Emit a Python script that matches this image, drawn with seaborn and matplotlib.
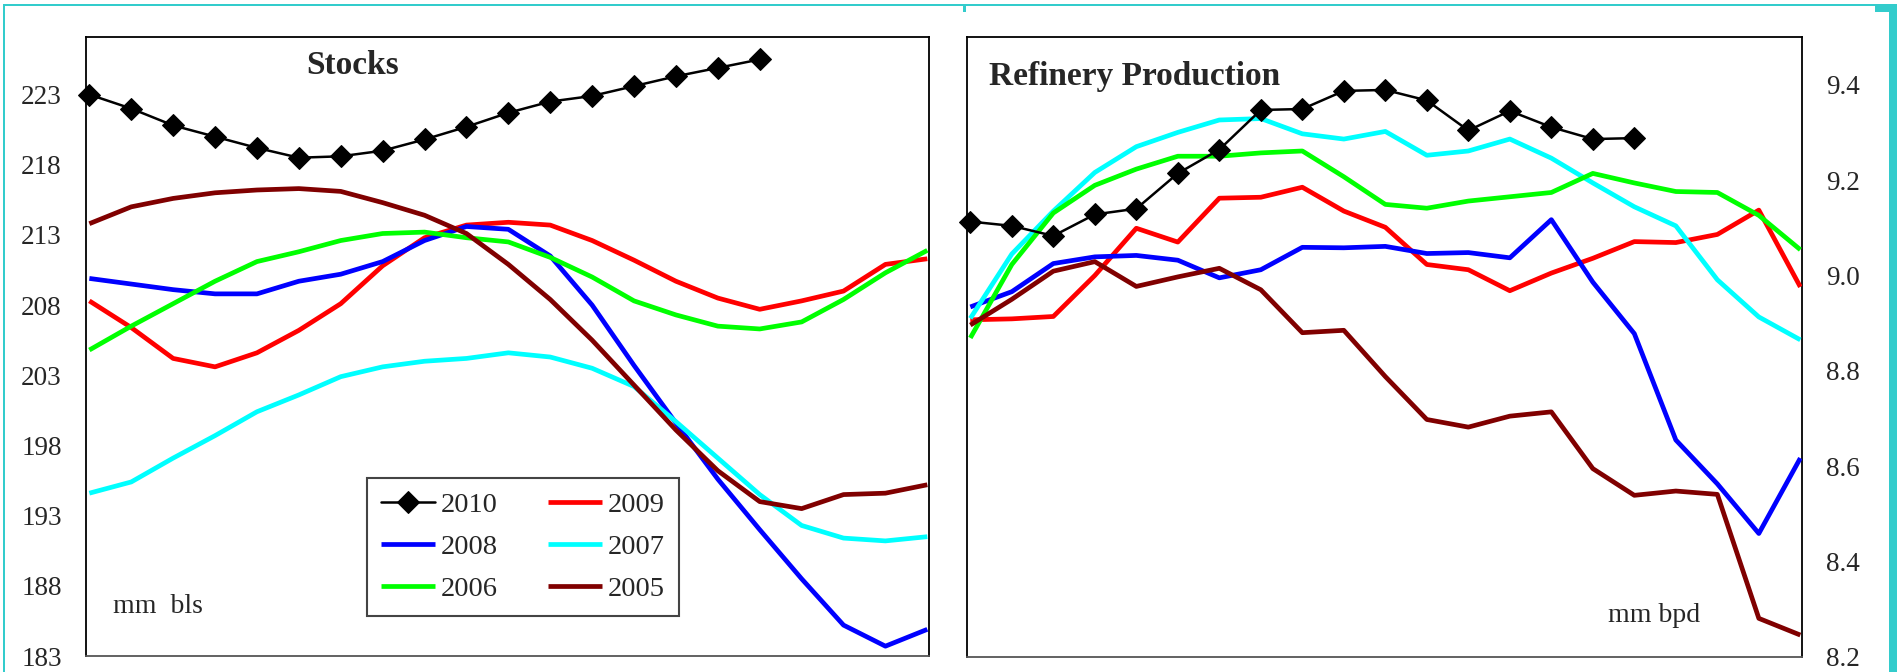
import numpy as np
import pandas as pd
import seaborn as sns
import matplotlib.pyplot as plt
from matplotlib.patches import Rectangle

years = ['2010', '2009', '2008', '2007', '2006', '2005']
colors = ['black', '#ff0000', '#0000ff', '#00ffff', '#00ff00', '#800000']

# Stocks, mm bls (21 points per year; 2010 only partial)
stocks_2010 = [223.0, 222.0, 220.8, 220.0, 219.2, 218.5, 218.6, 219.0, 219.8, 220.7,
               221.7, 222.5, 222.9, 223.6, 224.3, 224.9, 225.5]
stocks_2009 = [208.3, 206.4, 204.2, 203.6, 204.6, 206.2, 208.1, 210.8, 212.8, 213.7,
               213.9, 213.7, 212.6, 211.2, 209.7, 208.5, 207.7, 208.3, 209.0, 210.9, 211.3]
stocks_2008 = [209.9, 209.5, 209.1, 208.8, 208.8, 209.7, 210.2, 211.1, 212.6, 213.6,
               213.4, 211.5, 208.0, 203.7, 199.6, 195.6, 192.0, 188.5, 185.2, 183.7, 184.9]
stocks_2007 = [194.6, 195.4, 197.1, 198.7, 200.4, 201.6, 202.9, 203.6, 204.0, 204.2,
               204.6, 204.3, 203.5, 202.2, 199.7, 197.1, 194.5, 192.3, 191.4, 191.2, 191.5]
stocks_2006 = [204.8, 206.5, 208.1, 209.7, 211.1, 211.8, 212.6, 213.1, 213.2, 212.8,
               212.5, 211.4, 210.0, 208.3, 207.3, 206.5, 206.3, 206.8, 208.4, 210.3, 211.9]
stocks_2005 = [213.8, 215.0, 215.6, 216.0, 216.2, 216.3, 216.1, 215.3, 214.4, 213.1,
               210.9, 208.4, 205.5, 202.3, 199.1, 196.2, 194.0, 193.5, 194.5, 194.6, 195.2]

# Refinery production, mm bpd
refin_2010 = [9.113, 9.104, 9.083, 9.128, 9.140, 9.214, 9.264, 9.347, 9.349, 9.387,
              9.389, 9.367, 9.304, 9.345, 9.311, 9.286, 9.288]
refin_2009 = [8.907, 8.909, 8.914, 9.000, 9.099, 9.070, 9.162, 9.164, 9.185, 9.135,
              9.101, 9.023, 9.012, 8.968, 9.005, 9.036, 9.071, 9.069, 9.086, 9.137, 8.976]
refin_2008 = [8.934, 8.966, 9.025, 9.039, 9.042, 9.032, 8.995, 9.012, 9.059, 9.058,
              9.061, 9.046, 9.048, 9.037, 9.117, 8.986, 8.878, 8.655, 8.563, 8.459, 8.617]
refin_2007 = [8.910, 9.045, 9.135, 9.216, 9.270, 9.300, 9.326, 9.329, 9.297, 9.286,
              9.302, 9.252, 9.261, 9.286, 9.246, 9.194, 9.144, 9.104, 8.991, 8.913, 8.865]
refin_2006 = [8.869, 9.023, 9.131, 9.189, 9.223, 9.250, 9.250, 9.257, 9.261, 9.207,
              9.149, 9.141, 9.156, 9.165, 9.174, 9.214, 9.194, 9.176, 9.174, 9.126, 9.054]
refin_2005 = [8.896, 8.950, 9.009, 9.029, 8.977, 8.997, 9.015, 8.970, 8.880, 8.885,
              8.788, 8.698, 8.682, 8.705, 8.714, 8.595, 8.539, 8.548, 8.541, 8.281, 8.246]

stocks = [stocks_2010, stocks_2009, stocks_2008, stocks_2007, stocks_2006, stocks_2005]
refin = [refin_2010, refin_2009, refin_2008, refin_2007, refin_2006, refin_2005]

sns.set_style('white')
plt.rcParams['font.family'] = ['Liberation Serif', 'DejaVu Serif']

W, H = 1902, 672
fig = plt.figure(figsize=(W / 100, H / 100), dpi=100)
ax1 = fig.add_axes([86 / W, 1 - 656 / H, (929 - 86) / W, (656 - 37) / H])
ax2 = fig.add_axes([967 / W, 1 - 657 / H, (1802 - 967) / W, (657 - 37) / H])


def draw(ax, series):
    for i, (yr, col, vals) in enumerate(zip(years, colors, series)):
        x = np.arange(len(vals))
        if yr == '2010':
            sns.lineplot(x=x, y=vals, ax=ax, color=col, lw=1.8, marker='D',
                         markersize=11, markeredgecolor='black', label=yr,
                         zorder=10, clip_on=False)
        else:
            sns.lineplot(x=x, y=vals, ax=ax, color=col, lw=3.4, label=yr,
                         zorder=3 + i, solid_capstyle='butt')


draw(ax1, stocks)
draw(ax2, refin)

for ax in (ax1, ax2):
    ax.set_xlim(-0.08, 20.04)
    ax.set_xticks([])
    ax.set_xlabel('')
    ax.set_ylabel('')
    for s in ax.spines.values():
        s.set_color('black')
        s.set_linewidth(1.3)
    ax.spines['bottom'].set_color('#555555')
    ax.tick_params(axis='y', length=0, pad=17.5, labelsize=19.5)

ax1.set_ylim(183, 227.1)
ax1.set_yticks(np.arange(183, 224, 5))
ax2.set_ylim(8.2, 9.5)
ax2.set_yticks(np.arange(8.2, 9.41, 0.2))
ax2.set_yticklabels([f'{v:.1f}' for v in np.arange(8.2, 9.41, 0.2)])
ax2.yaxis.tick_right()

ax1.text(0.316, 0.940, 'Stocks', transform=ax1.transAxes, ha='center', va='baseline',
         fontsize=24, fontweight='bold')
ax1.text(0.032, 0.0695, 'mm  bls', transform=ax1.transAxes, ha='left', va='baseline',
         fontsize=20)
ax2.text(0.026, 0.9226, 'Refinery Production', transform=ax2.transAxes, ha='left',
         va='baseline', fontsize=24, fontweight='bold')
ax2.text(0.768, 0.056, 'mm bpd', transform=ax2.transAxes, ha='left', va='baseline',
         fontsize=20)

ax2.get_legend().remove()
h, l = ax1.get_legend_handles_labels()
order = [0, 2, 4, 1, 3, 5]
leg = ax1.legend([h[i] for i in order], [l[i] for i in order], ncol=2,
                 loc='lower left', bbox_to_anchor=(0.333, 0.065),
                 fontsize=20.5, frameon=True, fancybox=False, framealpha=1,
                 handlelength=1.9, handletextpad=0.2, columnspacing=1.75,
                 labelspacing=0.55, borderpad=0.5, borderaxespad=0)
leg.get_frame().set_edgecolor('#444444')
leg.get_frame().set_linewidth(1.5)

# teal outer frame, in pixel coordinates from the top-left corner
teal = '#33cccc'
for x0, y0, x1, y1 in [(3, 4, 1897, 6), (3, 4, 5, H), (1889, 4, 1897, H),
                       (1875, 4, 1897, 12), (963, 4, 966, 12)]:
    fig.patches.append(Rectangle((x0 / W, 1 - y1 / H), (x1 - x0) / W, (y1 - y0) / H,
                                 transform=fig.transFigure, facecolor=teal,
                                 edgecolor='none'))

fig.savefig('out.png', dpi=100)
plt.close()
